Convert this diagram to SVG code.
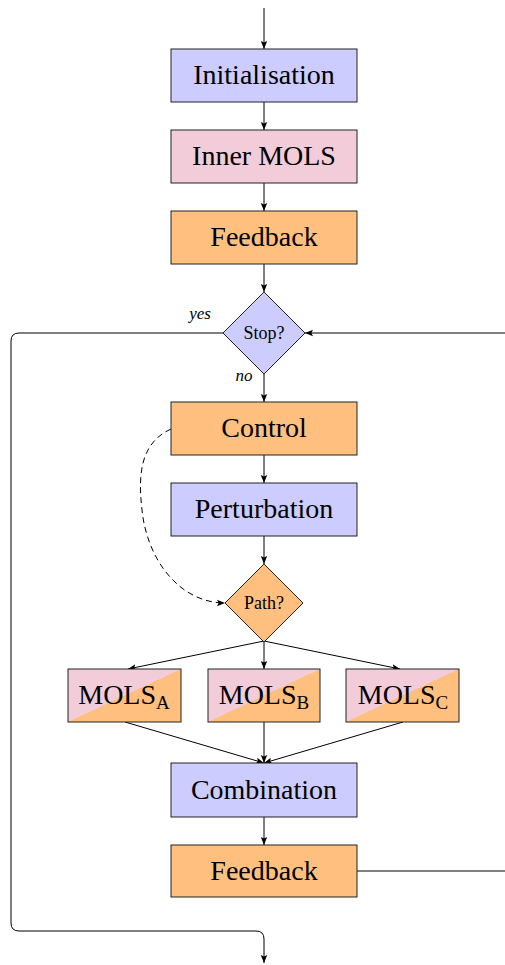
<svg xmlns="http://www.w3.org/2000/svg" width="505" height="965" viewBox="0 0 505 965">
<defs>
<marker id="ah" markerWidth="8" markerHeight="8" viewBox="0 0 10 10" refX="10" refY="5" orient="auto" markerUnits="userSpaceOnUse">
<path d="M0,1 L10,5 L0,9 L2,5 Z" fill="#000"/>
</marker>
<linearGradient id="split" x1="0" y1="0" x2="1" y2="1">
<stop offset="0.5" stop-color="#f2ccd9"/>
<stop offset="0.5" stop-color="#ffbf7f"/>
</linearGradient>
</defs>
<style>
.box{stroke:#222;stroke-width:1}
.blue{fill:#ccccff}
.pink{fill:#f2ccd9}
.orange{fill:#ffbf7f}
.split{fill:url(#split)}
.t{font-family:"Liberation Serif","DejaVu Serif",serif;font-size:28px;fill:#000;text-anchor:middle}
.s{font-family:"Liberation Serif","DejaVu Serif",serif;font-size:18px;fill:#000;text-anchor:middle}
.i{font-family:"Liberation Serif","DejaVu Serif",serif;font-size:17px;font-style:italic;fill:#000;text-anchor:middle}
.c{fill:none;stroke:#000;stroke-width:1}
.ca{fill:none;stroke:#000;stroke-width:1;marker-end:url(#ah)}
</style>
<g id="connectors">
<line class="ca" x1="264" y1="8" x2="264" y2="49"/>
<line class="ca" x1="264" y1="102" x2="264" y2="130"/>
<line class="ca" x1="264" y1="183" x2="264" y2="211"/>
<line class="ca" x1="264" y1="264" x2="264" y2="292"/>
<line class="ca" x1="264" y1="374" x2="264" y2="402"/>
<line class="ca" x1="264" y1="455" x2="264" y2="483"/>
<line class="ca" x1="264" y1="536" x2="264" y2="564"/>
<line class="ca" x1="264" y1="641" x2="128" y2="669"/>
<line class="ca" x1="264" y1="641" x2="264" y2="669"/>
<line class="ca" x1="264" y1="641" x2="400" y2="669"/>
<line class="ca" x1="125" y1="722" x2="264" y2="763"/>
<line class="ca" x1="264" y1="722" x2="264" y2="763"/>
<line class="ca" x1="403" y1="722" x2="264" y2="763"/>
<line class="ca" x1="264" y1="817" x2="264" y2="845"/>
<path class="c" d="M357,871 L505,871"/>
<path class="ca" d="M505,333 L305,333"/>
<path class="ca" d="M223,333 L19,333 Q11,333 11,341 L11,923 Q11,931 19,931 L256,931 Q264,931 264,939 L264,963"/>
<path class="ca" stroke-dasharray="6,4" d="M171,429 C140,443 138,475 142,510 C147,560 180,603 225,603"/>
<text class="i" x="200" y="319">yes</text>
<text class="i" x="244" y="381">no</text>
</g>
<g id="init"><rect class="box blue" x="171" y="49" width="186" height="53"/><text class="t" x="264" y="84">Initialisation</text></g>
<g id="inner"><rect class="box pink" x="171" y="130" width="186" height="53"/><text class="t" x="264" y="165">Inner MOLS</text></g>
<g id="feedback1"><rect class="box orange" x="171" y="211" width="186" height="53"/><text class="t" x="264" y="246">Feedback</text></g>
<g id="stop"><polygon class="box blue" points="264,292 305,333 264,374 223,333"/><text class="s" x="264" y="339">Stop?</text></g>
<g id="control"><rect class="box orange" x="171" y="402" width="186" height="53"/><text class="t" x="264" y="437">Control</text></g>
<g id="perturbation"><rect class="box blue" x="171" y="483" width="186" height="53"/><text class="t" x="264" y="518">Perturbation</text></g>
<g id="path"><polygon class="box orange" points="264,564 303,603 264,642 225,603"/><text class="s" x="264" y="609">Path?</text></g>
<g id="molsA"><rect class="box split" x="68" y="669" width="113" height="53"/><text class="t" x="124" y="704">MOLS<tspan font-size="19" dy="5">A</tspan></text></g>
<g id="molsB"><rect class="box split" x="208" y="669" width="112" height="53"/><text class="t" x="264" y="704">MOLS<tspan font-size="19" dy="5">B</tspan></text></g>
<g id="molsC"><rect class="box split" x="346" y="669" width="113" height="53"/><text class="t" x="403" y="704">MOLS<tspan font-size="19" dy="5">C</tspan></text></g>
<g id="combination"><rect class="box blue" x="171" y="763" width="186" height="54"/><text class="t" x="264" y="799">Combination</text></g>
<g id="feedback2"><rect class="box orange" x="171" y="845" width="186" height="52"/><text class="t" x="264" y="880">Feedback</text></g>
</svg>
